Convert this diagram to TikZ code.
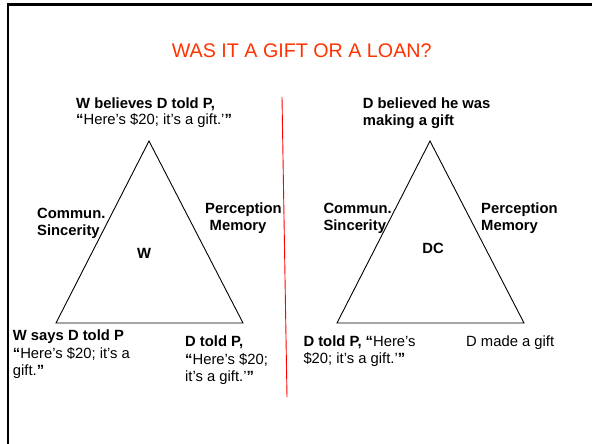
\documentclass[tikz,border=0pt]{standalone}
\usepackage{fontspec}
\setmainfont{Liberation Sans}
\definecolor{titlered}{RGB}{255,51,0}
\begin{document}
\begin{tikzpicture}[x=1pt,y=-1pt,
  lbl/.style={inner sep=0pt,anchor=base west,align=left,font=\fontsize{14.8}{17.5}\selectfont},
  blbl/.style={lbl,font=\fontsize{14.8}{17.5}\selectfont\bfseries},
  clbl/.style={inner sep=0pt,anchor=base,font=\fontsize{14.8}{17.5}\selectfont\bfseries},
  tri/.style={draw=black,line width=0.9pt,line join=miter},
  frame/.style={draw=black,line width=2.4pt},
  divider/.style={draw=red,line width=0.9pt}]
\useasboundingbox (0,0) rectangle (592,444);
\fill[white] (0,0) rectangle (592,444);
% frame
\coordinate (fb) at (8,450);
\coordinate (fc) at (8,4.5);
\coordinate (fr) at (600,4.5);
\draw[frame] (fb) -- (fc) -- (fr);
% title
\node[inner sep=0pt,anchor=base,text=titlered,font=\fontsize{19.7}{22}\selectfont] (title) at (301.7,57.3) {WAS IT A GIFT OR A LOAN?};
% divider
\coordinate (d1) at (282,97);
\coordinate (d2) at (287,397);
\draw[divider] (d1) -- (d2);
% left triangle
\coordinate (la) at (149,141);
\coordinate (lb) at (56,323);
\coordinate (lc) at (243,323);
\draw[tri] (la) -- (lb) -- (lc) -- cycle;
% right triangle
\coordinate (ra) at (430,141);
\coordinate (rb) at (337,323);
\coordinate (rc) at (524,323);
\draw[tri] (ra) -- (rb) -- (rc) -- cycle;
% left labels (anchor at baseline of last line)
\node[lbl,font=\fontsize{14.8}{16}\selectfont] (wtop) at (76,124.5) {\textbf{W believes D told P,}\\\textbf{“}Here’s \$20; it’s a gift.’\textbf{”}};
\node[blbl] (wcs) at (37,235.8) {Commun.\\Sincerity};
\node[blbl] (wpm) at (205,230.8) {Perception\\\hspace*{4.5pt}Memory};
\node[clbl] (wl) at (144,258.3) {W};
\node[lbl] (wsays) at (12.7,375.7) {\textbf{W says D told P}\\\textbf{“}Here’s \$20; it’s a\\gift.\textbf{”}};
\node[lbl] (dtold) at (185,381.7) {\textbf{D told P,}\\\textbf{“}Here’s \$20;\\it’s a gift.’\textbf{”}};
% right labels
\node[blbl] (dbel) at (362.7,125.8) {D believed he was\\making a gift};
\node[blbl] (dcs) at (323.3,230.8) {Commun.\\Sincerity};
\node[blbl] (dpm) at (481,230.8) {Perception\\Memory};
\node[clbl] (dcl) at (433,253.3) {DC};
\node[lbl] (dtold2) at (303.3,363.5) {\textbf{D told P, “}Here’s\\\$20; it’s a gift.’\textbf{”}};
\node[lbl] (dmade) at (466,346) {D made a gift};
\end{tikzpicture}
\end{document}
